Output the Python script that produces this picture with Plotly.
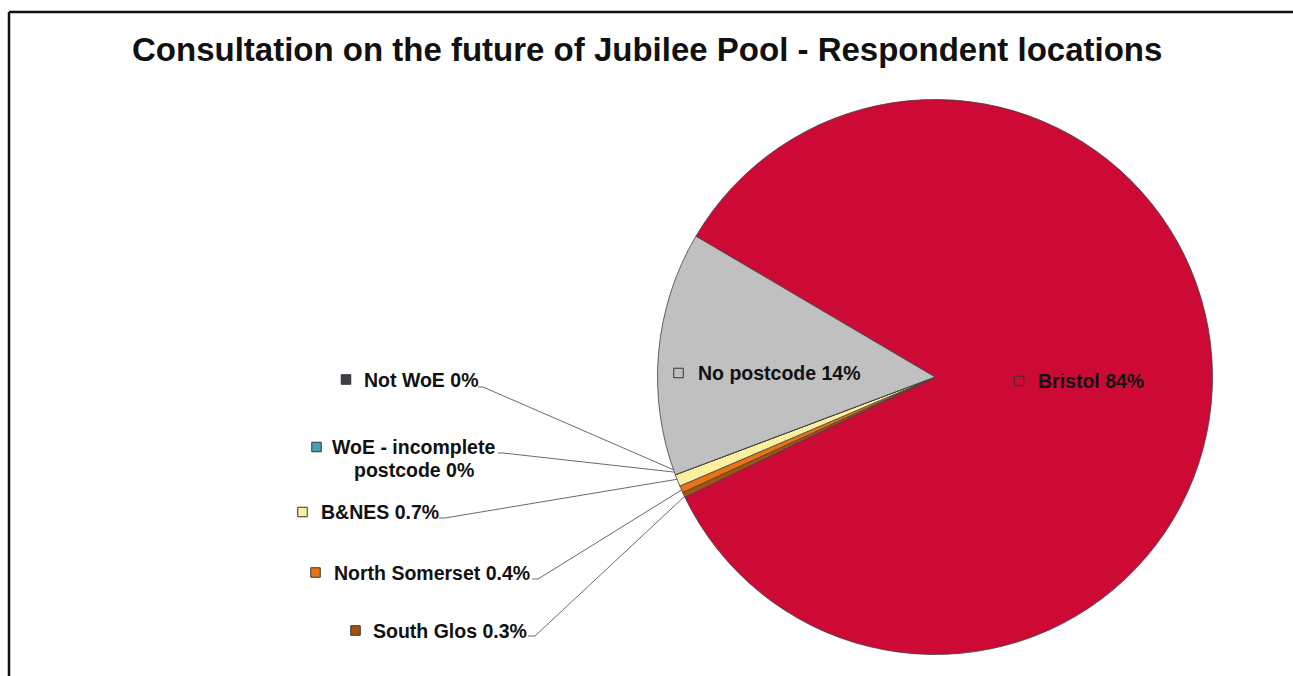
import math
import plotly.graph_objects as go

W, H = 1293, 676

# Respondent locations, listed clockwise starting from Bristol
categories = ["Bristol", "South Glos", "North Somerset", "B&NES",
              "WoE - incomplete postcode", "Not WoE", "No postcode"]
shares = [84.4, 0.3, 0.4, 0.7, 0.0, 0.0, 14.2]
share_labels = ["84%", "0.3%", "0.4%", "0.7%", "0%", "0%", "14%"]
colors = ["#CC0A35", "#A6520F", "#EB7314", "#FCEF9E",
          "#4A9FB5", "#3E3F47", "#C0C0C0"]

title = "Consultation on the future of Jubilee Pool - Respondent locations"

# Pie geometry (pixels)
CX, CY, R = 935, 377, 277.5
ROTATION = -59.5  # degrees clockwise from 12 o'clock where Bristol starts

FONT = "Liberation Sans, Arial, sans-serif"
LABEL_SIZE = 19.5
KEY = 9.5  # side of the colour key square

# Label placement: text anchor point, key square centre and leader stub
label_layout = {
    "Bristol": dict(tx=1036, ty=381, anchor="left", key=(1019, 381)),
    "No postcode": dict(tx=696, ty=373, anchor="left", key=(678.5, 373)),
    "Not WoE": dict(tx=362, ty=380, anchor="left", key=(346, 379.5),
                    stub=(478, 483, 387)),
    "WoE - incomplete postcode": dict(tx=413.5, ty=447, anchor="center",
                                      key=(316.5, 447), split=True,
                                      stub=(498, 503, 453)),
    "B&NES": dict(tx=319, ty=512, anchor="left", key=(302.5, 512),
                  stub=(439, 445, 518)),
    "North Somerset": dict(tx=332, ty=573, anchor="left", key=(315.5, 572.5),
                           stub=(532, 538, 579)),
    "South Glos": dict(tx=371, ty=631, anchor="left", key=(355.5, 630.5),
                       stub=(528, 535, 636)),
}

fig = go.Figure()

fig.add_trace(go.Pie(
    labels=categories,
    values=shares,
    sort=False,
    direction="clockwise",
    rotation=ROTATION,
    marker=dict(colors=colors, line=dict(color="#404040", width=0.8)),
    textinfo="none",
    hoverinfo="label+percent",
    showlegend=False,
    domain=dict(x=[(CX - R) / W, (CX + R) / W],
                y=[1 - (CY + R) / H, 1 - (CY - R) / H]),
))

# Mid-angle of every slice, used to anchor the leader lines on the rim
total = sum(shares)
mid_points = {}
cum = 0.0
for cat, v in zip(categories, shares):
    theta = math.radians(ROTATION + 360.0 * (cum + v / 2) / total)
    rr = R * 0.98
    mid_points[cat] = (CX + rr * math.sin(theta), CY - rr * math.cos(theta))
    cum += v

annotations = []
shapes = []
for cat, pct, col in zip(categories, share_labels, colors):
    lay = label_layout[cat]
    if lay.get("split"):
        first, second = "WoE - incomplete", f"postcode {pct}"
        annotations.append(dict(x=lay["tx"], y=lay["ty"], text=f"<b>{first}</b>",
                                xanchor="center", yanchor="middle"))
        annotations.append(dict(x=lay["tx"], y=lay["ty"] + 22.5,
                                text=f"<b>{second}</b>",
                                xanchor="center", yanchor="middle"))
    else:
        annotations.append(dict(x=lay["tx"], y=lay["ty"],
                                text=f"<b>{cat} {pct}</b>",
                                xanchor=lay["anchor"], yanchor="middle"))
    kx, ky = lay["key"]
    shapes.append(dict(type="rect", xref="x", yref="y", layer="above",
                       x0=kx - KEY / 2, x1=kx + KEY / 2,
                       y0=ky - KEY / 2, y1=ky + KEY / 2,
                       fillcolor=col, line=dict(color="#333333", width=1)))
    if "stub" in lay:
        x0, x1, sy = lay["stub"]
        px, py = mid_points[cat]
        fig.add_trace(go.Scatter(
            x=[x0, x1, px], y=[sy, sy, py], mode="lines",
            xaxis="x", yaxis="y",
            line=dict(color="#6a6a6a", width=1),
            hoverinfo="skip", showlegend=False,
        ))

for a in annotations:
    a.update(xref="x", yref="y", showarrow=False,
             font=dict(family=FONT, size=LABEL_SIZE, color="#111111"))

annotations.append(dict(
    x=646.5, y=49, xref="x", yref="y", showarrow=False,
    text=f"<b>{title}</b>", xanchor="center", yanchor="middle",
    font=dict(family=FONT, size=33, color="#111111"),
))

# Chart frame: top and left edges
frame = dict(color="#111111", width=2.5)
shapes.append(dict(type="line", xref="x", yref="y", x0=9, x1=W + 10,
                   y0=12, y1=12, line=frame))
shapes.append(dict(type="line", xref="x", yref="y", x0=9, x1=9,
                   y0=12, y1=H + 10, line=frame))

fig.update_layout(
    width=W, height=H,
    margin=dict(l=0, r=0, t=0, b=0),
    paper_bgcolor="white",
    plot_bgcolor="rgba(0,0,0,0)",
    xaxis=dict(range=[0, W], visible=False, fixedrange=True),
    yaxis=dict(range=[H, 0], visible=False, fixedrange=True),
    annotations=annotations,
    shapes=shapes,
)

fig.write_html("out.html", config={"displayModeBar": False})
